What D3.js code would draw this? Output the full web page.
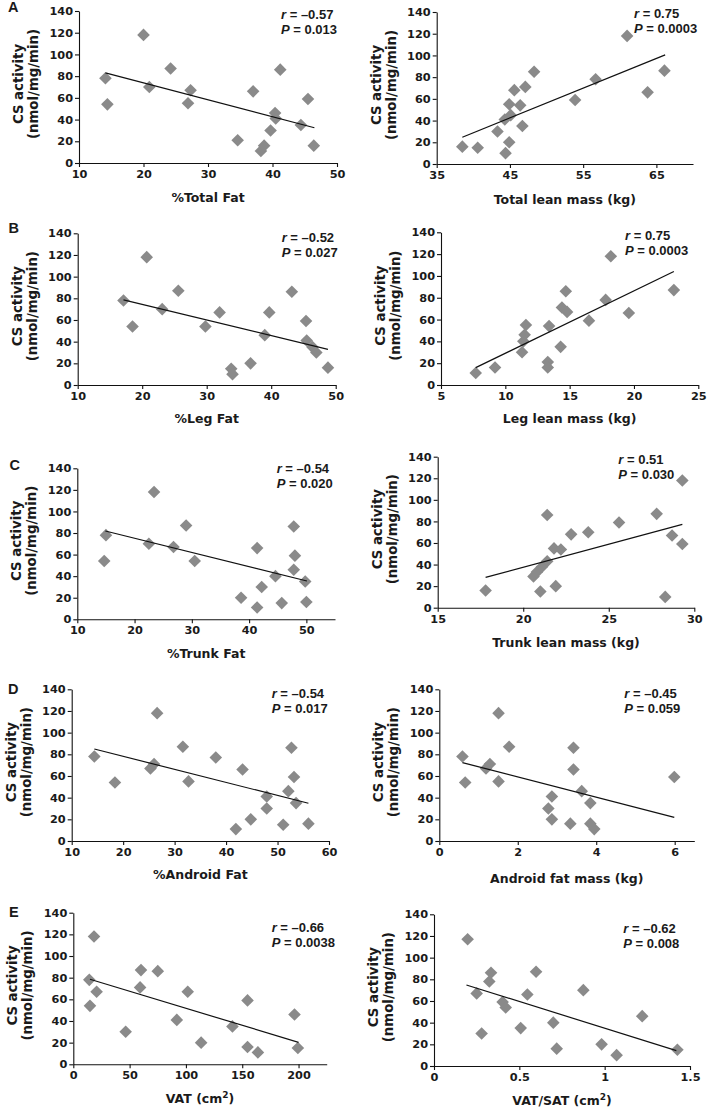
<!DOCTYPE html>
<html>
<head>
<meta charset="utf-8">
<script src="https://cdn.jsdelivr.net/npm/d3@7"></script>
<style>
  html, body { margin: 0; padding: 0; background: #fff; }
  svg { display: block; }
</style>
</head>
<body>
<svg id="chart" width="709" height="1111"></svg>
<script>
// ---------------- DATA ----------------
const yTicks = [0, 20, 40, 60, 80, 100, 120, 140];
const yLabelLine1 = "CS activity";
const yLabelLine2 = "(nmol/mg/min)";

// A left: %Total Fat
const totalFatX = [14.1, 14.4, 20.0, 20.9, 24.2, 26.9, 27.3, 34.6, 37.0, 38.2, 38.7, 39.7, 40.4, 40.5, 41.2, 44.4, 45.5, 46.4];
const totalFatY = [78, 54, 118, 70, 87, 55, 67, 21, 66, 11, 16, 30, 46, 41, 86, 35, 59, 16];
const totalFatFitX = [14.1, 46.5];
const totalFatFitY = [83, 32.5];
const totalFatTicks = [10, 20, 30, 40, 50];

// A right: Total lean mass
const totalLeanX = [38.5, 40.6, 43.3, 44.3, 44.4, 44.9, 44.9, 45.1, 45.6, 46.4, 46.7, 47.1, 48.3, 53.9, 56.7, 61.0, 63.8, 66.1];
const totalLeanY = [16, 15, 30, 41, 10, 20, 55, 45, 68, 54, 35, 71, 85, 59, 78, 118, 66, 86];
const totalLeanFitX = [38.5, 66.2];
const totalLeanFitY = [24.7, 100.5];
const totalLeanTicks = [35, 45, 55, 65];

// B left: %Leg Fat
const legFatX = [17.1, 18.5, 20.7, 23.1, 25.6, 29.8, 32.0, 33.8, 34.0, 36.8, 39.0, 39.7, 43.2, 45.4, 45.5, 46.4, 47.0, 48.8];
const legFatY = [78, 54, 118, 70, 87, 54, 67, 15, 10, 20, 46, 67, 86, 59, 41, 35, 30, 16];
const legFatFitX = [17.1, 48.8];
const legFatFitY = [78.5, 32.9];
const legFatTicks = [10, 20, 30, 40, 50];

// B right: Leg lean mass
const legLeanX = [7.7, 9.2, 11.3, 11.4, 11.5, 11.6, 13.3, 13.3, 13.4, 14.3, 14.4, 14.7, 14.8, 16.5, 17.8, 18.2, 19.6, 23.1];
const legLeanY = [11, 16, 30, 40, 46, 55, 21, 16, 54, 35, 71, 86, 67, 59, 78, 118, 66, 87];
const legLeanFitX = [7.7, 23.1];
const legLeanFitY = [15.9, 104];
const legLeanTicks = [5, 10, 15, 20, 25];

// C left: %Trunk Fat
const trunkFatX = [14.7, 15.0, 22.5, 23.4, 26.8, 29.0, 30.5, 38.6, 41.4, 41.4, 42.2, 44.6, 45.7, 47.8, 48.0, 47.8, 49.8, 50.0];
const trunkFatY = [54, 78, 70, 118, 67, 87, 54, 20, 11, 66, 30, 40, 15, 86, 59, 46, 35, 16];
const trunkFatFitX = [14.9, 50.1];
const trunkFatFitY = [81.9, 35.5];
const trunkFatTicks = [10, 20, 30, 40, 50];

// C right: Trunk lean mass
const trunkLeanX = [17.8, 20.6, 20.8, 21.0, 21.1, 21.4, 21.4, 21.8, 21.9, 22.2, 22.8, 23.8, 25.6, 27.8, 28.3, 28.7, 29.3, 29.3];
const trunkLeanY = [16, 29, 33, 15, 38, 43, 86, 55, 20, 54, 68, 70, 79, 87, 10, 67, 59, 118];
const trunkLeanFitX = [17.8, 29.3];
const trunkLeanFitY = [28.1, 77.3];
const trunkLeanTicks = [15, 20, 25, 30];

// D left: %Android Fat
const androidPctX = [14.4, 18.4, 25.3, 26.0, 26.6, 31.6, 32.7, 38.0, 41.9, 43.2, 44.8, 47.9, 47.9, 51.1, 52.1, 52.7, 53.2, 53.6, 56.0];
const androidPctY = [78, 54, 67, 71, 118, 87, 55, 77, 11, 66, 20, 41, 30, 15, 46, 86, 59, 35, 16];
const androidPctFitX = [14.4, 56.0];
const androidPctFitY = [84.9, 34.8];
const androidPctTicks = [10, 20, 30, 40, 50, 60];

// D right: Android fat mass
const androidMassX = [0.59, 0.66, 1.19, 1.29, 1.51, 1.51, 1.78, 2.78, 2.87, 2.87, 3.34, 3.42, 3.42, 3.63, 3.85, 3.85, 3.95, 5.99];
const androidMassY = [78, 54, 67, 71, 118, 55, 87, 30, 41, 20, 16, 86, 66, 46, 35, 16, 11, 59];
const androidMassFitX = [0.59, 5.99];
const androidMassFitY = [72.3, 21.8];
const androidMassTicks = [0, 2, 4, 6];

// E left: VAT
const vatX = [14.2, 14.8, 18.4, 20.7, 46.5, 59.3, 60.1, 75.0, 91.9, 101.6, 113.5, 141.3, 154.7, 154.7, 163.9, 196.4, 199.4];
const vatY = [78, 54, 118, 67, 30, 71, 87, 86, 41, 67, 20, 35, 59, 16, 11, 46, 15];
const vatFitX = [14.8, 200];
const vatFitY = [78.5, 20.3];
const vatTicks = [0, 50, 100, 150, 200];

// E right: VAT/SAT
const ratioX = [0.197, 0.25, 0.279, 0.324, 0.334, 0.402, 0.42, 0.508, 0.547, 0.598, 0.699, 0.719, 0.875, 0.982, 1.07, 1.22, 1.426];
const ratioY = [117, 67, 30, 78, 86, 59, 54, 35, 66, 87, 40, 16, 70, 20, 10, 46, 15];
const ratioFitX = [0.19, 1.42];
const ratioFitY = [74.8, 14.2];
const ratioTicks = [0, 0.5, 1, 1.5];

const stats = [
  ["\u20130.57", "0.013"], ["0.75", "0.0003"],
  ["\u20130.52", "0.027"], ["0.75", "0.0003"],
  ["\u20130.54", "0.020"], ["0.51", "0.030"],
  ["\u20130.54", "0.017"], ["\u20130.45", "0.059"],
  ["\u20130.66", "0.0038"], ["\u20130.62", "0.008"]
];
const xTitles = ["%Total Fat", "Total lean mass (kg)", "%Leg Fat", "Leg lean mass (kg)",
  "%Trunk Fat", "Trunk lean mass (kg)", "%Android Fat", "Android fat mass (kg)", "VAT (cm|2|)", "VAT/SAT (cm|2|)"];
const panelLetters = ["A", "", "B", "", "C", "", "D", "", "E", ""];

// ---------------- LAYOUT ----------------
const panels = [
  {xs: totalFatX, ys: totalFatY, fx: totalFatFitX, fy: totalFatFitY, ticks: totalFatTicks, dom: [10, 50],
   x0: 79, x1: 337, yTop: 11, yBot: 163, stat: [281, 19], title: 201.5, letter: [8, 12]},
  {xs: totalLeanX, ys: totalLeanY, fx: totalLeanFitX, fy: totalLeanFitY, ticks: totalLeanTicks, dom: [35, 70],
   x0: 436.7, x1: 693, yTop: 12, yBot: 164, stat: [634, 18], title: 204},
  {xs: legFatX, ys: legFatY, fx: legFatFitX, fy: legFatFitY, ticks: legFatTicks, dom: [10, 50],
   x0: 77.7, x1: 335.7, yTop: 233.3, yBot: 385, stat: [281.7, 241.5], title: 423.3, letter: [8.5, 233.3]},
  {xs: legLeanX, ys: legLeanY, fx: legLeanFitX, fy: legLeanFitY, ticks: legLeanTicks, dom: [5, 25],
   x0: 441, x1: 698.3, yTop: 232.3, yBot: 385, stat: [625, 240], title: 423.3},
  {xs: trunkFatX, ys: trunkFatY, fx: trunkFatFitX, fy: trunkFatFitY, ticks: trunkFatTicks, dom: [10, 55],
   x0: 77.3, x1: 335, yTop: 468.3, yBot: 619.3, stat: [276.7, 472.7], title: 657.5, letter: [9.5, 470]},
  {xs: trunkLeanX, ys: trunkLeanY, fx: trunkLeanFitX, fy: trunkLeanFitY, ticks: trunkLeanTicks, dom: [15, 30],
   x0: 437.7, x1: 694.3, yTop: 456.7, yBot: 607.7, stat: [618.3, 464.3], title: 646.7},
  {xs: androidPctX, ys: androidPctY, fx: androidPctFitX, fy: androidPctFitY, ticks: androidPctTicks, dom: [10, 60],
   x0: 71.7, x1: 329, yTop: 689.3, yBot: 841, stat: [271.7, 697.7], title: 879.3, letter: [8, 694.3]},
  {xs: androidMassX, ys: androidMassY, fx: androidMassFitX, fy: androidMassFitY, ticks: androidMassTicks, dom: [0, 6.5],
   x0: 439.3, x1: 694.3, yTop: 689.3, yBot: 841, stat: [624.3, 698.3], title: 883.3},
  {xs: vatX, ys: vatY, fx: vatFitX, fy: vatFitY, ticks: vatTicks, dom: [0, 225],
   x0: 73.3, x1: 326.7, yTop: 912.7, yBot: 1064.3, stat: [271.7, 932.3], title: 1103.3, letter: [9, 917.3]},
  {xs: ratioX, ys: ratioY, fx: ratioFitX, fy: ratioFitY, ticks: ratioTicks, dom: [0, 1.5],
   x0: 434, x1: 690, yTop: 914.3, yBot: 1066, stat: [623.3, 932.7], title: 1105}
];

const svg = d3.select("#chart");
const tickFont = "'DejaVu Sans', sans-serif";
const textColor = "#1a1a1a";
const markerColor = "#8a8a8a";

panels.forEach((p, i) => {
  const x = d3.scaleLinear().domain(p.dom).range([p.x0, p.x1]);
  const y = d3.scaleLinear().domain([0, 140]).range([p.yBot, p.yTop]);
  const g = svg.append("g");

  // axes
  const xAxis = d3.axisBottom(x).tickValues(p.ticks).tickSize(4).tickSizeOuter(0).tickPadding(3)
    .tickFormat(d => String(d));
  const yAxis = d3.axisLeft(y).tickValues(yTicks).tickSize(4).tickSizeOuter(0).tickPadding(2);
  const gx = g.append("g").attr("transform", `translate(0,${p.yBot})`).call(xAxis);
  const gy = g.append("g").attr("transform", `translate(${p.x0},0)`).call(yAxis);
  [gx, gy].forEach(a => {
    a.select(".domain").attr("stroke", "#111").attr("stroke-width", 1.1);
    a.selectAll(".tick line").attr("stroke", "#111").attr("stroke-width", 1.1);
    a.selectAll(".tick text").attr("fill", textColor)
      .style("font-family", tickFont).style("font-weight", "bold").style("font-size", "11.3px");
  });

  // markers
  const pts = p.xs.map((v, k) => [v, p.ys[k]]);
  const r = 6.3;
  g.append("g").selectAll("path").data(pts).join("path")
    .attr("d", d => `M${x(d[0])},${y(d[1]) - r}L${x(d[0]) + r},${y(d[1])}L${x(d[0])},${y(d[1]) + r}L${x(d[0]) - r},${y(d[1])}Z`)
    .attr("fill", markerColor);

  // trend line
  g.append("line")
    .attr("x1", x(p.fx[0])).attr("y1", y(p.fy[0]))
    .attr("x2", x(p.fx[1])).attr("y2", y(p.fy[1]))
    .attr("stroke", "#111").attr("stroke-width", 1.2);

  // y title
  const yc = (p.yTop + p.yBot) / 2 - 3;
  [[yLabelLine1, 56], [yLabelLine2, 41]].forEach(([t, off]) => {
    g.append("text")
      .attr("transform", `translate(${p.x0 - off},${yc}) rotate(-90)`)
      .attr("text-anchor", "middle")
      .attr("fill", textColor)
      .style("font-family", tickFont).style("font-weight", "bold").style("font-size", "13.3px")
      .text(t);
  });

  // x title (supports superscript marked with |)
  const parts = xTitles[i].split("|");
  const xt = g.append("text")
    .attr("x", (p.x0 + p.x1) / 2).attr("y", p.title)
    .attr("text-anchor", "middle").attr("fill", textColor)
    .style("font-family", tickFont).style("font-weight", "bold").style("font-size", "12.5px");
  xt.append("tspan").text(parts[0]);
  if (parts.length > 1) {
    xt.append("tspan").attr("dy", -5).style("font-size", "9px").text(parts[1]);
    xt.append("tspan").attr("dy", 5).text(parts[2]);
  }

  // stats
  const sFont = "'Liberation Sans', Arial, sans-serif";
  const t1 = g.append("text").attr("x", p.stat[0]).attr("y", p.stat[1]).attr("fill", textColor)
    .style("font-family", sFont).style("font-weight", "bold").style("font-size", "13px");
  t1.append("tspan").style("font-style", "italic").text("r");
  t1.append("tspan").text(" = " + stats[i][0]);
  const t2 = g.append("text").attr("x", p.stat[0]).attr("y", p.stat[1] + 15).attr("fill", textColor)
    .style("font-family", sFont).style("font-weight", "bold").style("font-size", "13px");
  t2.append("tspan").style("font-style", "italic").text("P");
  t2.append("tspan").text(" = " + stats[i][1]);

  // panel letter
  if (panelLetters[i]) {
    g.append("text").attr("x", p.letter[0]).attr("y", p.letter[1]).attr("fill", textColor)
      .style("font-family", sFont).style("font-weight", "bold").style("font-size", "14.5px")
      .text(panelLetters[i]);
  }
});
</script>
</body>
</html>
